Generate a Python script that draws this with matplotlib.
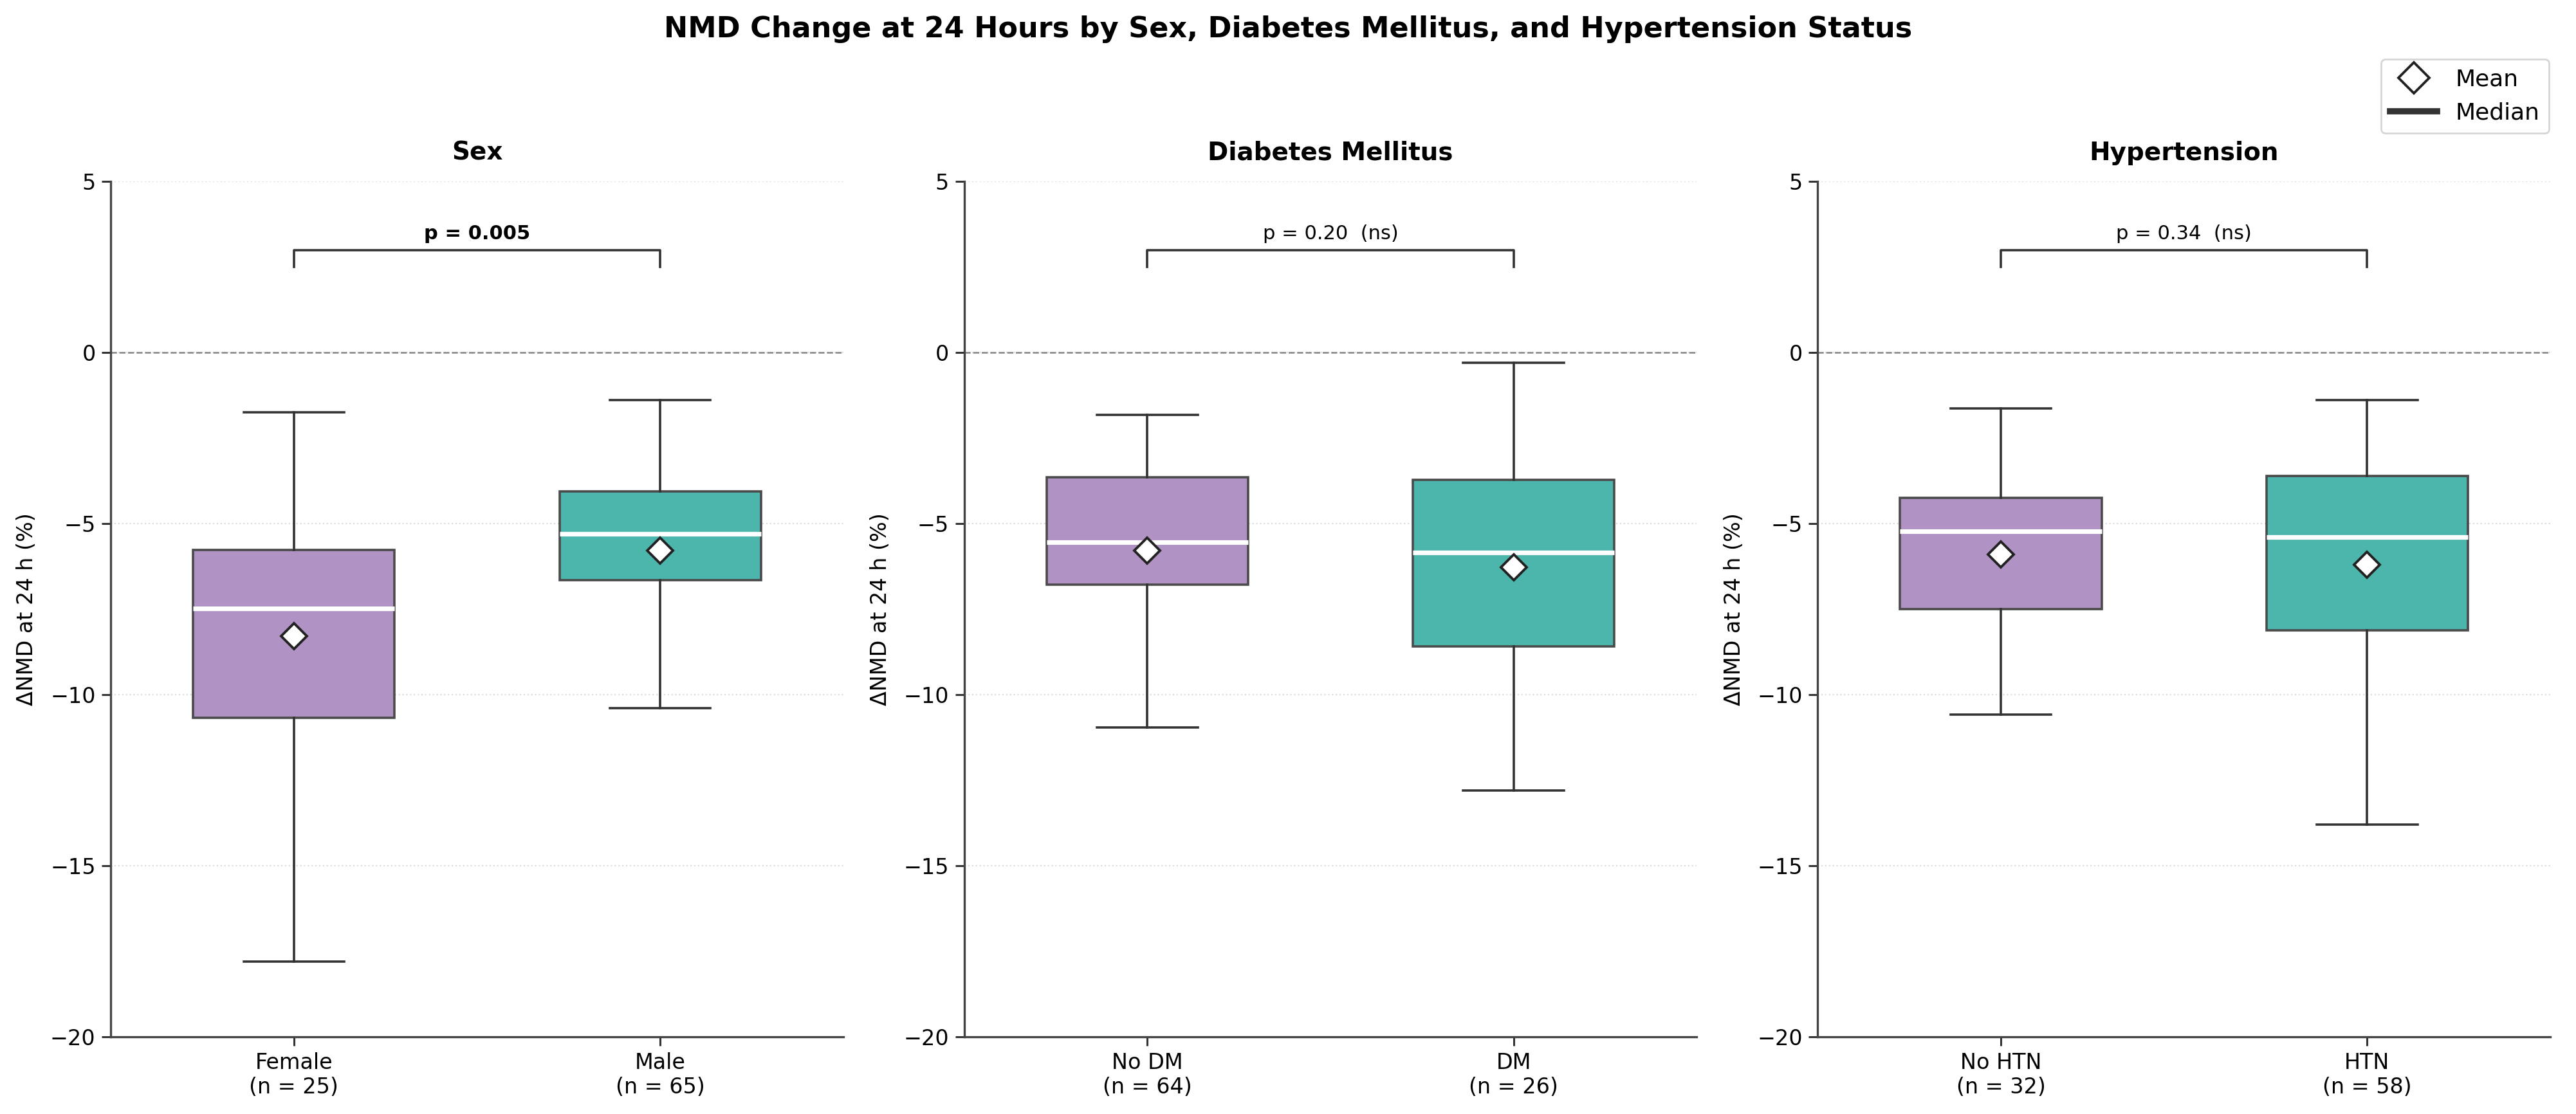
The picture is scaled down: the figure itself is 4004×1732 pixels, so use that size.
import numpy as np
import matplotlib
matplotlib.use('Agg')
import matplotlib.pyplot as plt
from matplotlib.lines import Line2D

# panels
panel_titles = ['Sex', 'Diabetes Mellitus', 'Hypertension']
group_names = [['Female', 'Male'], ['No DM', 'DM'], ['No HTN', 'HTN']]
group_n = [[25, 65], [64, 26], [32, 58]]

# box statistics (delta NMD at 24 h, %)
whis_hi = [[-1.75, -1.39], [-1.81, -0.30], [-1.63, -1.39]]
q3_vals = [[-5.76, -4.06], [-3.64, -3.72], [-4.24, -3.60]]
medians = [[-7.48, -5.29], [-5.53, -5.83], [-5.21, -5.38]]
means = [[-8.28, -5.78], [-5.78, -6.28], [-5.89, -6.20]]
q1_vals = [[-10.66, -6.64], [-6.77, -8.59], [-7.49, -8.12]]
whis_lo = [[-17.80, -10.39], [-10.95, -12.80], [-10.58, -13.79]]

p_labels = ['p = 0.005', 'p = 0.20  (ns)', 'p = 0.34  (ns)']
p_bold = [True, False, False]

box_colors = ['#B092C4', '#4DB6AC']
edge_col = '#4a4a4a'

plt.rcParams['font.family'] = 'DejaVu Sans'

fig, axes = plt.subplots(1, 3, figsize=(20.02, 8.66), dpi=200)
fig.subplots_adjust(left=0.043, right=0.990, bottom=0.069, top=0.837, wspace=0.165)

for k, ax in enumerate(axes):
    stats = []
    for j in range(2):
        stats.append(dict(med=medians[k][j], q1=q1_vals[k][j], q3=q3_vals[k][j],
                          whislo=whis_lo[k][j], whishi=whis_hi[k][j],
                          mean=means[k][j], fliers=[]))
    bp = ax.bxp(stats, positions=[0, 1], widths=0.55, patch_artist=True,
                showmeans=True, showfliers=False,
                boxprops=dict(edgecolor=edge_col, linewidth=1.3),
                whiskerprops=dict(color='#333333', linewidth=1.3),
                capprops=dict(color='#333333', linewidth=1.3),
                medianprops=dict(color='white', linewidth=2.6),
                meanprops=dict(marker='D', markerfacecolor='white', markeredgecolor='#222222',
                               markeredgewidth=1.4, markersize=10))
    for patch, c in zip(bp['boxes'], box_colors):
        patch.set_facecolor(c)
        patch.set_zorder(2)

    ax.set_xlim(-0.5, 1.5)
    ax.set_ylim(-20, 5)
    ax.set_yticks([-20, -15, -10, -5, 0, 5])
    ax.set_xticks([0, 1])
    ax.set_xticklabels([f'{g}\n(n = {n})' for g, n in zip(group_names[k], group_n[k])])
    ax.tick_params(labelsize=12, length=5, width=1.1, color='#333333')
    ax.set_ylabel('ΔNMD at 24 h (%)', fontsize=12, labelpad=7)
    ax.set_title(panel_titles[k], fontsize=14, fontweight='bold', pad=12)

    ax.yaxis.grid(True, linestyle=':', color='#dddddd', linewidth=0.8)
    ax.set_axisbelow(True)
    ax.axhline(0, color='#888888', linestyle='--', linewidth=0.9, zorder=1)

    for side in ['top', 'right']:
        ax.spines[side].set_visible(False)
    for side in ['left', 'bottom']:
        ax.spines[side].set_color('#444444')
        ax.spines[side].set_linewidth(1.2)

    # significance bracket
    ax.plot([0, 0, 1, 1], [2.5, 3.0, 3.0, 2.5], color='#333333', linewidth=1.3)
    ax.text(0.5, 3.2, p_labels[k], ha='center', va='bottom', fontsize=11,
            fontweight='bold' if p_bold[k] else 'normal')

fig.suptitle('NMD Change at 24 Hours by Sex, Diabetes Mellitus, and Hypertension Status',
             fontsize=16, fontweight='bold', y=0.986)

handles = [Line2D([], [], marker='D', linestyle='none', markerfacecolor='white',
                  markeredgecolor='#222222', markeredgewidth=1.4, markersize=12),
           Line2D([], [], color='#333333', linewidth=3.5)]
fig.legend(handles, ['Mean', 'Median'], loc='upper right', bbox_to_anchor=(0.9895, 0.947),
           borderaxespad=0, fontsize=13, frameon=True, edgecolor='#cccccc')

plt.savefig('out.png', dpi=200)
